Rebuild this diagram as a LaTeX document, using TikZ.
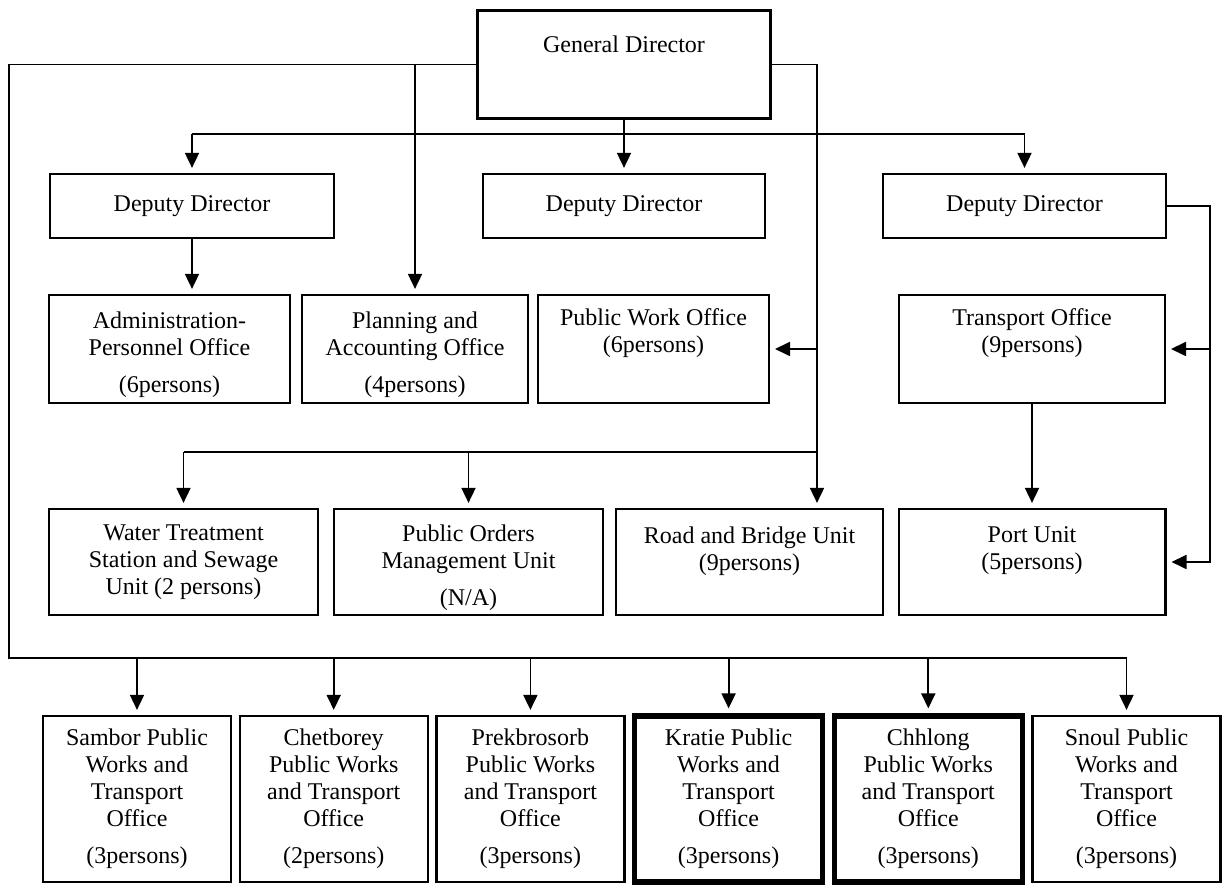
\documentclass[tikz,border=0pt]{standalone}
\usepackage{fontspec}
\setmainfont{Liberation Serif}
\usetikzlibrary{arrows.meta,positioning}

\begin{document}
\begin{tikzpicture}[
    x=0.5pt, y=-0.5pt,
    box/.style={draw, line width=1.1pt, align=center, inner ysep=1pt,
                font=\fontsize{12pt}{13.5pt}\selectfont},
    bigbox/.style={box, line width=1.7pt},
    boldbox/.style={box, line width=2.6pt},
    office/.style={box, minimum height=83pt, minimum width=94pt},
    link/.style={line width=0.9pt},
    arr/.style={link, -{Triangle[length=7.5pt,width=7pt]}, shorten >=2.5pt},
    node distance=3.25pt
  ]
    \useasboundingbox (0,0) rectangle (1222,886);

    \node[bigbox, minimum width=146.3pt, minimum height=53.8pt] (gd) at (624,64.5) {General Director\\[7pt]~};

    \node[box, minimum width=141.9pt, minimum height=32pt] (dd1) at (192,206) {Deputy Director};
    \node[box, minimum width=140.9pt, minimum height=32pt] (dd2) at (624,206) {Deputy Director};
    \node[box, minimum width=141.4pt, minimum height=32pt] (dd3) at (1024.5,206) {Deputy Director};

    \node[box, minimum width=120.4pt, minimum height=54pt] (adm) at (169.5,349) {\rule{0pt}{14pt}Administration-\\Personnel Office\\[5pt](6persons)};
    \node[box, minimum width=112.9pt, minimum height=54pt] (plan) at (415,349) {\rule{0pt}{14pt}Planning and\\Accounting Office\\[5pt](4persons)};
    \node[box, minimum width=115.4pt, minimum height=54pt] (pw) at (653.5,349) {Public Work Office\\(6persons)\\[5pt]~};
    \node[box, minimum width=132.9pt, minimum height=54pt] (tr) at (1032,349) {Transport Office\\(9persons)\\[5pt]~};

    \node[box, minimum width=134.4pt, minimum height=53pt] (wts) at (183.5,562) {Water Treatment\\Station and Sewage\\Unit (2 persons)};
    \node[box, minimum width=134.4pt, minimum height=53pt] (pom) at (468.5,562) {\rule{0pt}{14pt}Public Orders\\Management Unit\\[5pt](N/A)};
    \node[box, minimum width=133.4pt, minimum height=53pt] (rb) at (749.5,562) {Road and Bridge Unit\\(9persons)\\~};
    \node[box, minimum width=133.4pt, minimum height=53pt] (port) at (1032,562) {Port Unit\\(5persons)\\~};

    \node[office] (sam) at (137,799) {Sambor Public\\Works and\\Transport\\Office\\[5pt](3persons)};
    \node[office, right=of sam] (chet) {Chetborey\\Public Works\\and Transport\\Office\\[5pt](2persons)};
    \node[office, right=of chet] (prek) {Prekbrosorb\\Public Works\\and Transport\\Office\\[5pt](3persons)};
    \node[office, boldbox, right=of prek] (kra) {Kratie Public\\Works and\\Transport\\Office\\[5pt](3persons)};
    \node[office, boldbox, right=of kra] (chh) {Chhlong\\Public Works\\and Transport\\Office\\[5pt](3persons)};
    \node[office, right=of chh] (sno) {Snoul Public\\Works and\\Transport\\Office\\[5pt](3persons)};

    \coordinate (lt) at (9,658);
    \coordinate (hub) at (0,134);
    \coordinate (rt) at (817,0);
    \coordinate (ub) at (0,452);
    \coordinate (sr) at (1210,0);

    \draw[link] (gd.west) -| (lt) -- (sno.north |- lt);
    \foreach \n in {sam,chet,prek,kra,chh,sno}
      \draw[arr] (\n.north |- lt) -- (\n.north);

    \draw[link] (dd1.north |- hub) -- (dd3.north |- hub);
    \draw[arr] (dd1.north |- hub) -- (dd1.north);
    \draw[arr] (dd3.north |- hub) -- (dd3.north);
    \draw[arr] (gd) -- (dd2);

    \draw[arr] (plan.north |- gd.west) -- (plan.north);
    \draw[arr] (dd1.south) -- (dd1.south |- adm.north);

    \draw[arr] (gd.east) -| (rt |- rb.north);
    \draw[arr] (rt |- pw.east) -- (pw.east);
    \draw[link] (wts.north |- ub) -- (rt |- ub);
    \draw[arr] (wts.north |- ub) -- (wts.north);
    \draw[arr] (pom.north |- ub) -- (pom.north);

    \draw[arr] (dd3.east) -| (sr |- port.east) -- (port.east);
    \draw[arr] (sr |- tr.east) -- (tr.east);
    \draw[arr] (tr) -- (port);
\end{tikzpicture}
\end{document}
